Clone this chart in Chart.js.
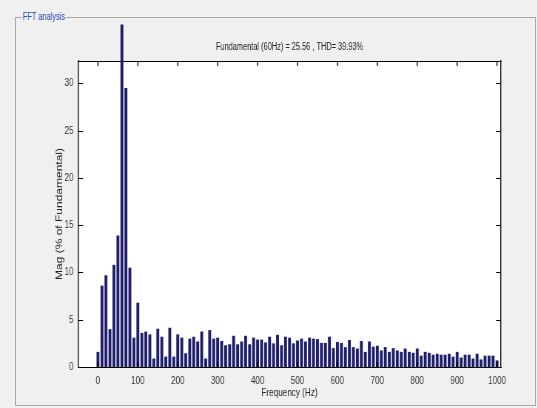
<!DOCTYPE html>
<html>
<head>
<meta charset="utf-8">
<script src="https://cdn.jsdelivr.net/npm/chart.js@4/dist/chart.umd.min.js"></script>
<style>
  html, body { margin: 0; padding: 0; background: #f0f0f0; }
  #wrap { position: relative; width: 537px; height: 408px; overflow: hidden; }
  #frame { position: absolute; left: 15px; top: 17px; width: 519px; height: 387px; border: 1px solid #a8a8a8; }
  #frame span { position: absolute; left: 6px; top: -7px; padding: 0 1px; background: #f0f0f0; color: #2a46b8;
    font: 10px "Liberation Sans", sans-serif; transform: scaleX(0.74); transform-origin: 0 0; }
  /* the screenshot is horizontally squeezed, so draw wider and squeeze the canvas */
  canvas { position: absolute; left: 0; top: 0; transform: scaleX(0.74); transform-origin: 0 0; }
</style>
</head>
<body>
<div id="wrap">
  <div id="frame"><span>FFT analysis</span></div>
  <canvas id="fft" width="726" height="408"></canvas>
</div>
<script>
// harmonic frequencies (Hz)
const frequencies = [
  0, 10, 20, 30, 40, 50, 60, 70, 80, 90,
  100, 110, 120, 130, 140, 150, 160, 170, 180, 190,
  200, 210, 220, 230, 240, 250, 260, 270, 280, 290,
  300, 310, 320, 330, 340, 350, 360, 370, 380, 390,
  400, 410, 420, 430, 440, 450, 460, 470, 480, 490,
  500, 510, 520, 530, 540, 550, 560, 570, 580, 590,
  600, 610, 620, 630, 640, 650, 660, 670, 680, 690,
  700, 710, 720, 730, 740, 750, 760, 770, 780, 790,
  800, 810, 820, 830, 840, 850, 860, 870, 880, 890,
  900, 910, 920, 930, 940, 950, 960, 970, 980, 990,
  1000
];

// magnitude, % of fundamental
const magnitudes = [
  1.6, 8.6, 9.7, 4.0, 10.8, 13.9, 36.2, 29.5, 10.5, 3.1,
  6.8, 3.6, 3.75, 3.45, 0.9, 4.05, 3.2, 1.1, 4.15, 1.1,
  3.45, 3.1, 1.45, 3.0, 3.2, 2.7, 3.75, 0.9, 3.9, 3.0,
  3.1, 2.75, 2.3, 2.4, 3.3, 2.4, 2.7, 3.3, 2.4, 3.1,
  2.9, 2.9, 2.6, 3.2, 2.5, 3.4, 2.3, 3.2, 3.1, 2.5,
  2.8, 3.0, 2.7, 3.1, 3.0, 2.95, 2.55, 2.55, 3.2, 2.0,
  2.65, 2.55, 2.1, 2.85, 2.1, 1.95, 2.75, 1.6, 2.7, 2.15,
  2.25, 1.75, 2.1, 1.6, 2.0, 1.75, 1.6, 1.95, 1.6, 1.5,
  1.95, 1.2, 1.6, 1.5, 1.3, 1.4, 1.3, 1.3, 1.4, 1.1,
  1.6, 1.0, 1.3, 1.3, 0.9, 1.4, 0.8, 1.2, 1.2, 1.2,
  0.7
];

const xTicks = [0, 100, 200, 300, 400, 500, 600, 700, 800, 900, 1000];
const yTicks = [0, 5, 10, 15, 20, 25, 30];

const titleText = 'Fundamental (60Hz) = 25.56 , THD= 39.93%';
const xTitle = 'Frequency (Hz)';
const yTitle = 'Mag (% of Fundamental)';

Chart.defaults.font.family = '"Liberation Sans", Arial, sans-serif';
Chart.defaults.color = '#333';

const SQ = 0.74;                 // horizontal squeeze of the canvas
const X_MIN = -50, X_MAX = 1010, Y_MAX = 32.35;
const noGrid = { display: false, drawTicks: false, tickLength: 0 };

const plotBackground = {
  id: 'plotBackground',
  beforeDraw(chart) {
    const { ctx, chartArea: a } = chart;
    ctx.save();
    ctx.fillStyle = '#fff';
    ctx.fillRect(a.left, a.top, a.right - a.left, a.bottom - a.top);
    ctx.restore();
  }
};

// matlab style ticks pointing into the axes
const inwardTicks = {
  id: 'inwardTicks',
  afterDatasetsDraw(chart) {
    const { ctx, chartArea: a, scales } = chart;
    const len = 5;
    ctx.save();
    ctx.strokeStyle = '#000';
    ctx.lineWidth = 1 / SQ;
    ctx.beginPath();
    xTicks.forEach(v => {
      const px = scales.x.getPixelForValue(v);
      ctx.moveTo(px, a.bottom); ctx.lineTo(px, a.bottom - len);
      ctx.moveTo(px, a.top); ctx.lineTo(px, a.top + len);
    });
    ctx.stroke();
    ctx.lineWidth = 1;
    ctx.beginPath();
    yTicks.forEach(v => {
      const py = Math.round(scales.y.getPixelForValue(v)) + 0.5;
      ctx.moveTo(a.left, py); ctx.lineTo(a.left + len / SQ, py);
      ctx.moveTo(a.right, py); ctx.lineTo(a.right - len / SQ, py);
    });
    ctx.stroke();
    ctx.restore();
  }
};

const fixTicks = values => scale => { scale.ticks = values.map(v => ({ value: v })); };

new Chart(document.getElementById('fft'), {
  type: 'bar',
  data: {
    datasets: [{
      data: frequencies.map((f, i) => ({ x: f, y: magnitudes[i] })),
      backgroundColor: '#1e1e6c',
      borderWidth: 0,
      barPercentage: 0.72,
      categoryPercentage: 1,
      clip: false
    }]
  },
  options: {
    responsive: false,
    animation: false,
    events: [],
    layout: { padding: 0 },
    plugins: { legend: { display: false }, tooltip: { enabled: false } },
    scales: {
      x: {
        type: 'linear', position: 'bottom', min: X_MIN, max: X_MAX, offset: false,
        grid: noGrid,
        border: { display: true, color: '#000' },
        afterBuildTicks: fixTicks(xTicks),
        afterFit: s => { s.height = 41; },
        ticks: { padding: 7, font: { size: 11 }, maxRotation: 0, autoSkip: false, callback: v => String(v) },
        title: { display: true, text: xTitle, font: { size: 11 }, color: '#222', padding: { top: 0, bottom: 8 } }
      },
      x2: {
        type: 'linear', position: 'top', min: X_MIN, max: X_MAX, offset: false,
        grid: noGrid,
        border: { display: true, color: '#000' },
        ticks: { display: false },
        afterFit: s => { s.height = 61; },
        title: { display: true, text: titleText, font: { size: 10 }, color: '#222', padding: { top: 41, bottom: 0 } }
      },
      y: {
        type: 'linear', position: 'left', min: 0, max: Y_MAX,
        grid: noGrid,
        border: { display: true, color: '#000', width: 1 / SQ },
        afterBuildTicks: fixTicks(yTicks),
        afterFit: s => { s.width = 78 / SQ; },
        ticks: { padding: 6, font: { size: 11 } },
        title: { display: true, text: yTitle, font: { size: 12 }, color: '#222', padding: { top: 60 / SQ - 7.2, bottom: 0 } }
      },
      y2: {
        type: 'linear', position: 'right', min: 0, max: Y_MAX,
        grid: noGrid,
        border: { display: true, color: '#000', width: 1 / SQ },
        ticks: { display: false },
        afterFit: s => { s.width = 726 - 501 / SQ; }
      }
    }
  },
  plugins: [plotBackground, inwardTicks]
});
</script>
</body>
</html>
